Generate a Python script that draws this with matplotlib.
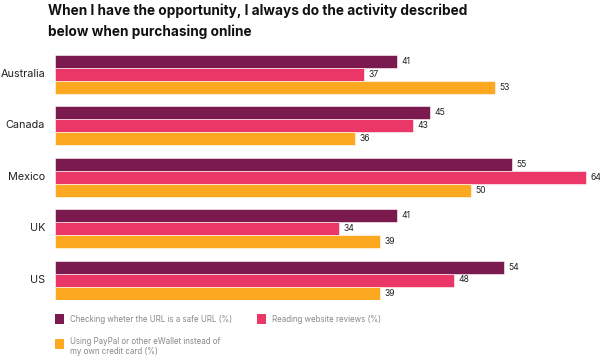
import matplotlib
matplotlib.use("Agg")
import matplotlib.pyplot as plt
from matplotlib.patches import Rectangle

countries = ["Australia", "Canada", "Mexico", "UK", "US"]
series_names = ["Checking wheter the URL is a safe URL (%)",
                "Reading website reviews (%)",
                "Using PayPal or other eWallet instead of\nmy own credit card (%)"]
url_safe = [41, 45, 55, 41, 54]
reviews = [37, 43, 64, 34, 48]
paypal = [53, 36, 50, 39, 39]
colors = ["#7B1A4F", "#EB3767", "#FCA820"]
title = "When I have the opportunity, I always do the activity described\nbelow when purchasing online"

plt.rcParams['font.family'] = ['Inter', 'DejaVu Sans']

W, H = 600, 357
fig = plt.figure(figsize=(W/100, H/100), dpi=100)
ax = fig.add_axes([55/W, 1-299.5/H, 535/W, 245/H])

x0 = -0.5
bh = 13/51.5
series = [url_safe, reviews, paypal]
for s, (vals, col) in enumerate(zip(series, colors)):
    ys = [i + (s-1)*bh for i in range(len(countries))]
    ax.barh(ys, [v - x0 for v in vals], height=bh, left=x0, color=col,
            edgecolor="white", linewidth=0.4)
    for y, v in zip(ys, vals):
        ax.text(v + 0.55, y, str(v), va="center", ha="left", fontsize=6.2, color="#222222")

ax.set_xlim(x0, 64.5)
ax.set_ylim(4 + 19.5/51.5, -19.5/51.5)
ax.axis("off")
for i, c in enumerate(countries):
    fig.text(45/W, 1-(74 + i*51.5)/H, c, ha="right", va="center", fontsize=7.8,
             color="#222222")

fig.text(48/W, 1-3/H, title, ha="left", va="top", fontsize=9.8, fontweight="bold",
         color="#111111", linespacing=1.6)

# legend
leg = [(55, 319, 0), (257, 319, 1)]
for x, y, k in leg:
    fig.patches.append(Rectangle((x/W, 1-(y+5)/H), 9/W, 10/H, transform=fig.transFigure,
                                 facecolor=colors[k], edgecolor="none"))
    fig.text((x+15)/W, 1-y/H, series_names[k], ha="left", va="center", fontsize=5.7,
             color="#888888")
fig.patches.append(Rectangle((55/W, 1-349/H), 9/W, 10/H, transform=fig.transFigure,
                             facecolor=colors[2], edgecolor="none"))
fig.text(70/W, 1-337/H, series_names[2], ha="left", va="top", fontsize=5.7,
         color="#888888", linespacing=1.1)

fig.savefig("out.png", dpi=100)
